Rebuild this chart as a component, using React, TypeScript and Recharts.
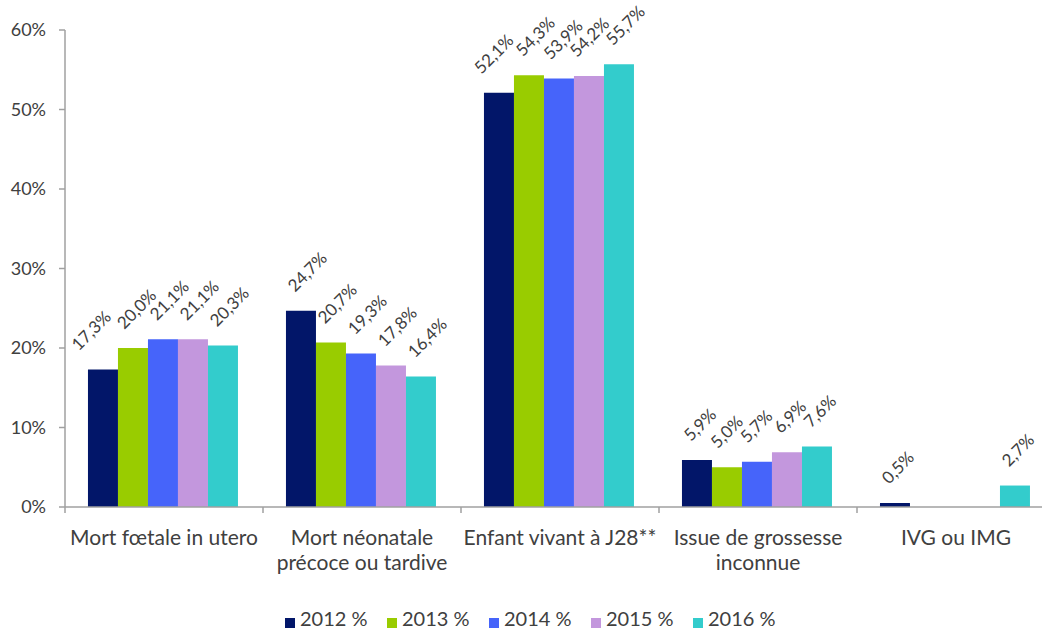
import React from 'react';
import { BarChart, Bar, XAxis, YAxis, LabelList } from 'recharts';

const categories = [
  'Mort fœtale in utero',
  'Mort néonatale\nprécoce ou tardive',
  'Enfant vivant à J28**',
  'Issue de grossesse\ninconnue',
  'IVG ou IMG',
];
const seriesNames = ['2012 %', '2013 %', '2014 %', '2015 %', '2016 %'];
const colors = ['#021669', '#99cc00', '#4664fa', '#c397dd', '#33cccc'];
const v2012 = [17.3, 24.7, 52.1, 5.9, 0.5];
const v2013 = [20.0, 20.7, 54.3, 5.0, null];
const v2014 = [21.1, 19.3, 53.9, 5.7, null];
const v2015 = [21.1, 17.8, 54.2, 6.9, null];
const v2016 = [20.3, 16.4, 55.7, 7.6, 2.7];
const yTicks = [0, 10, 20, 30, 40, 50, 60];

const allValues = [v2012, v2013, v2014, v2015, v2016];
const data = categories.map((name, i) => {
  const row: Record<string, any> = { name };
  allValues.forEach((vals, s) => { row['s' + s] = vals[i]; });
  return row;
});

const FONT = 'Lato, "Liberation Sans", Arial, sans-serif';
const TEXT = '#404040';
const AXIS = '#a0a0a0';
const W = 1080;
const H = 640;
const M = { top: 30, right: 25, left: 0, bottom: 53 };
const YW = 65;
const XH = 80;
const BAND = (W - M.left - M.right - YW) / categories.length;
const PX_PER_UNIT = (H - M.top - M.bottom - XH) / 60;
const LABEL_GAP = 24; // min spacing between neighbour labels, measured along x+y

const fmt = (v: number) => v.toFixed(1).replace('.', ',') + '%';

// rotated label above the bar; neighbours that would overlap get pushed left
const BarLabel = (props: any) => {
  const { x, y, width, value, index, s } = props;
  if (value == null) return null;
  const own = Number(value);
  const q: (number | null)[] = allValues.map((vals, n) => {
    const v = vals[index];
    if (v == null) return null;
    return (n - s) * width + (own - v) * PX_PER_UNIT;
  });
  let limit = Infinity;
  let shift = 0;
  for (let n = q.length - 1; n >= 0; n--) {
    const qn = q[n];
    if (qn == null) continue;
    const adj = Math.min(qn, limit);
    if (n === s) { shift = adj - qn; break; }
    limit = adj - LABEL_GAP;
  }
  const x0 = x + width / 2 - 6 + shift;
  const y0 = y - 18;
  return (
    <text x={x0} y={y0} transform={`rotate(-45 ${x0} ${y0})`} textAnchor="start"
      fill={TEXT} fontSize={17} fontFamily={FONT}>
      {fmt(own)}
    </text>
  );
};

const CategoryTick = (props: any) => {
  const { x, y, payload, index } = props;
  const lines = String(payload.value).split('\n');
  return (
    <g>
      <line x1={x - BAND / 2} x2={x - BAND / 2} y1={y} y2={y + 6} stroke={AXIS} strokeWidth={1.5} />
      {index === categories.length - 1 && (
        <line x1={x + BAND / 2} x2={x + BAND / 2} y1={y} y2={y + 6} stroke={AXIS} strokeWidth={1.5} />
      )}
      {lines.map((l, i) => (
        <text key={i} x={x} y={y + 38 + i * 25} textAnchor="middle" fill={TEXT} fontSize={21} fontFamily={FONT}>
          {l}
        </text>
      ))}
    </g>
  );
};

export default function App() {
  return (
    <div style={{ position: 'fixed', left: 0, top: 0, width: 1042, height: 629, overflow: 'hidden', background: '#fff' }}>
      <BarChart width={W} height={H} data={data} margin={M} barCategoryGap="11.6%" barGap={0}>
        <XAxis dataKey="name" height={XH} tickLine={false} tickSize={0} tickMargin={0}
          axisLine={{ stroke: AXIS, strokeWidth: 1.5 }} tick={<CategoryTick />} interval={0} />
        <YAxis width={YW} domain={[0, 60]} ticks={yTicks} tickFormatter={(v) => v + '%'}
          tickSize={6} tickMargin={13} axisLine={{ stroke: AXIS, strokeWidth: 1.5 }}
          tickLine={{ stroke: AXIS, strokeWidth: 1.5 }}
          tick={{ fill: TEXT, fontSize: 18, fontFamily: FONT }} />
        {seriesNames.map((n, s) => (
          <Bar key={n} dataKey={'s' + s} name={n} fill={colors[s]} isAnimationActive={false}>
            <LabelList dataKey={'s' + s} content={<BarLabel s={s} />} />
          </Bar>
        ))}
      </BarChart>
      <div style={{ position: 'absolute', top: 606, left: 285, display: 'flex', fontFamily: FONT, fontSize: 20, lineHeight: '24px', color: TEXT }}>
        {seriesNames.map((n, s) => (
          <div key={n} style={{ width: 102, position: 'relative', height: 24 }}>
            <span style={{ position: 'absolute', left: 0, top: 12, width: 10, height: 10, background: colors[s] }} />
            <span style={{ position: 'absolute', left: 15, top: 0, whiteSpace: 'nowrap' }}>{n}</span>
          </div>
        ))}
      </div>
    </div>
  );
}
